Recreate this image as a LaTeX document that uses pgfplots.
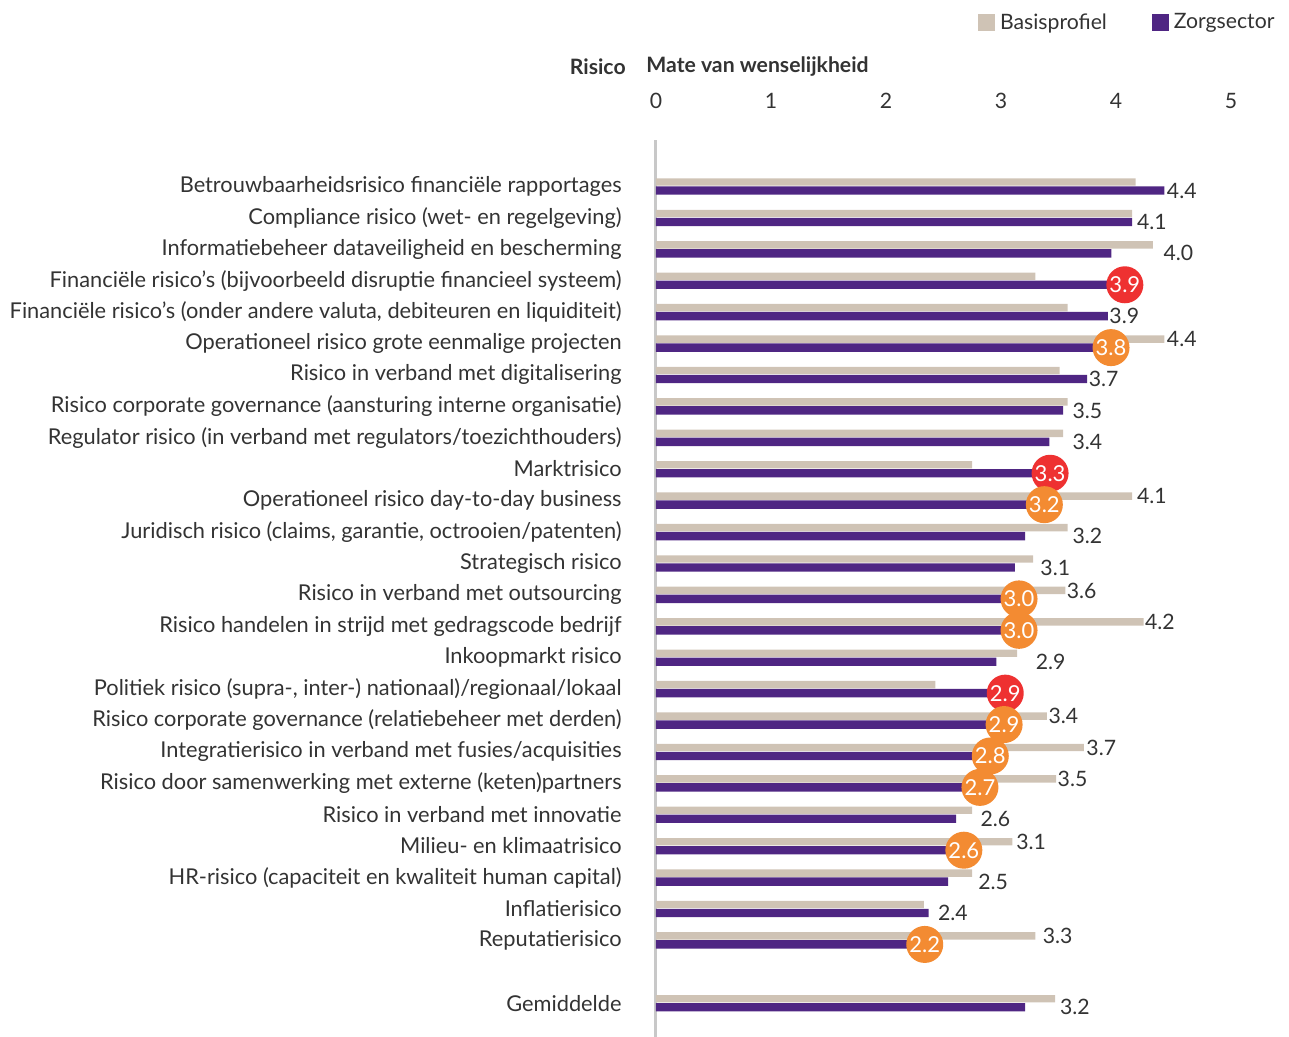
\documentclass[border=0pt]{standalone}
\usepackage{pgfplots}
\usepackage{pgfplotstable}
\pgfplotsset{compat=1.18}
\usepackage{fontspec}
\setmainfont{Lato}
\definecolor{beige}{HTML}{CFC3B5}
\definecolor{purp}{HTML}{4F2683}
\definecolor{cred}{HTML}{EE3131}
\definecolor{corange}{HTML}{F38B32}
\definecolor{txt}{HTML}{333333}
\definecolor{axisgray}{HTML}{C8C8C8}

\pgfplotstableread{
y beige zorg
-1 4.17 4.42
-2 4.14 4.14
-3 4.32 3.96
-4 3.30 3.93
-5 3.58 3.93
-6 4.42 3.81
-7 3.51 3.75
-8 3.58 3.54
-9 3.54 3.42
-10 2.75 3.28
-11 4.14 3.23
-12 3.58 3.21
-13 3.28 3.12
-14 3.56 3.01
-15 4.24 3.01
-16 3.14 2.96
-17 2.43 2.89
-18 3.40 2.88
-19 3.72 2.76
-20 3.48 2.67
-21 2.75 2.61
-22 3.10 2.53
-23 2.75 2.54
-24 2.33 2.37
-25 3.30 2.19
-27 3.47 3.21
}\datatable

\begin{document}
\begin{tikzpicture}[font=\fontsize{10.6}{12.7}\selectfont\color{txt}]
\useasboundingbox (-328pt,0pt) rectangle (316.5pt,518.5pt);
\begin{axis}[
  at={(0pt,0pt)}, anchor=south west,
  scale only axis, width=287.5pt, height=448.5pt,
  xmin=0, xmax=5, ymin=-28.08, ymax=0.476,
  axis line style={draw=none},
  major tick length=0pt,
  xtick={0,1,2,3,4,5},
  xticklabel pos=upper,
  xticklabel style={anchor=center, yshift=19.5pt, text=txt},
  /pgf/number format/assume math mode=true,
  extra x ticks={0},
  extra x tick labels={},
  extra x tick style={grid=major, major grid style={line width=1.5pt, draw=axisgray}},
  ytick={-1,-2,-3,-4,-5,-6,-7,-8,-9,-10,-11,-12,-13,-14,-15,-16,-17,-18,-19,-20,-21,-22,-23,-24,-25,-27},
  yticklabels={
    Betrouwbaarheidsrisico financiële rapportages,
    Compliance risico (wet- en regelgeving),
    Informatiebeheer dataveiligheid en bescherming,
    Financiële risico’s (bijvoorbeeld disruptie financieel systeem),
    {Financiële risico’s (onder andere valuta, debiteuren en liquiditeit)},
    Operationeel risico grote eenmalige projecten,
    Risico in verband met digitalisering,
    Risico corporate governance (aansturing interne organisatie),
    Regulator risico (in verband met regulators/toezichthouders),
    Marktrisico,
    Operationeel risico day-to-day business,
    {Juridisch risico (claims, garantie, octrooien/patenten)},
    Strategisch risico,
    Risico in verband met outsourcing,
    Risico handelen in strijd met gedragscode bedrijf,
    Inkoopmarkt risico,
    {Politiek risico (supra-, inter-) nationaal)/regionaal/lokaal},
    Risico corporate governance (relatiebeheer met derden),
    Integratierisico in verband met fusies/acquisities,
    Risico door samenwerking met externe (keten)partners,
    Risico in verband met innovatie,
    Milieu- en klimaatrisico,
    HR-risico (capaciteit en kwaliteit human capital),
    Inflatierisico,
    Reputatierisico,
    Gemiddelde},
  yticklabel style={anchor=east, inner sep=0pt, xshift=-17pt, text=txt,
    font=\fontsize{10.9}{13}\selectfont},
  legend style={draw=none, fill=none, at={(1.085,1.147)}, anchor=north east,
    inner sep=0pt, legend columns=2, text=txt,
    nodes={inner sep=2.5pt},
    /tikz/every even column/.append style={column sep=20pt}},
  legend cell align=left,
  clip=false,
]
\addplot[xbar, bar width=3.7pt, bar shift=2.15pt, fill=beige, draw=none,
  legend image code/.code={\fill[beige] (0pt,-4.25pt) rectangle (8.5pt,4.25pt);}]
  table[x=beige, y=y]{\datatable};
\addlegendentry{Basisprofiel}
\addplot[xbar, bar width=4.2pt, bar shift=-2.1pt, fill=purp, draw=none,
  legend image code/.code={\fill[purp] (0pt,-4.25pt) rectangle (8.5pt,4.25pt);}]
  table[x=zorg, y=y]{\datatable};
\addlegendentry{Zorgsector}

% value labels at the purple bar level
\addplot[draw=none, mark=none, forget plot, nodes near coords, point meta=explicit symbolic,
  nodes near coords align=horizontal,
  every node near coord/.append style={anchor=west, inner sep=0pt, yshift=-2.1pt, text=txt}]
  coordinates {(4.44,-1)[4.4] (4.18,-2)[4.1] (4.41,-3)[4.0] (3.94,-5)[3.9] (3.76,-7)[3.7]
   (3.62,-8)[3.5] (3.62,-9)[3.4] (3.62,-12)[3.2] (3.34,-13)[3.1] (3.30,-16)[2.9]
   (2.82,-21)[2.6] (2.80,-23)[2.5] (2.45,-24)[2.4] (3.51,-27)[3.2]};
% value labels at the beige bar level
\addplot[draw=none, mark=none, forget plot, nodes near coords, point meta=explicit symbolic,
  nodes near coords align=horizontal,
  every node near coord/.append style={anchor=west, inner sep=0pt, yshift=2.15pt, text=txt}]
  coordinates {(4.44,-6)[4.4] (4.18,-11)[4.1] (3.57,-14)[3.6] (4.25,-15)[4.2] (3.41,-18)[3.4]
   (3.74,-19)[3.7] (3.49,-20)[3.5] (3.13,-22)[3.1] (3.36,-25)[3.3]};
% red circles
\addplot[draw=none, mark=none, forget plot, nodes near coords, point meta=explicit symbolic,
  nodes near coords align=horizontal,
  every node near coord/.append style={anchor=west, circle, fill=cred, text=white,
    minimum size=18.5pt, inner sep=0pt, xshift=-1pt, yshift=-2.1pt,
    font=\fontsize{11}{13}\selectfont}]
  coordinates {(3.93,-4)[3.9] (3.28,-10)[3.3] (2.89,-17)[2.9]};
% orange circles
\addplot[draw=none, mark=none, forget plot, nodes near coords, point meta=explicit symbolic,
  nodes near coords align=horizontal,
  every node near coord/.append style={anchor=west, circle, fill=corange, text=white,
    minimum size=18.5pt, inner sep=0pt, xshift=-1pt, yshift=-2.1pt,
    font=\fontsize{11}{13}\selectfont}]
  coordinates {(3.81,-6)[3.8] (3.23,-11)[3.2] (3.01,-14)[3.0] (3.01,-15)[3.0] (2.88,-18)[2.9]
   (2.76,-19)[2.8] (2.67,-20)[2.7] (2.53,-22)[2.6] (2.19,-25)[2.2]};

\node[anchor=east, font=\fontsize{10.6}{12.7}\selectfont\bfseries, text=txt, inner sep=0pt]
  at (rel axis cs:-0.052,1.0814) {Risico};
\node[anchor=west, font=\fontsize{10.6}{12.7}\selectfont\bfseries, text=txt, inner sep=0pt]
  at (rel axis cs:-0.0174,1.0814) {Mate van wenselijkheid};
\end{axis}
\end{tikzpicture}
\end{document}
